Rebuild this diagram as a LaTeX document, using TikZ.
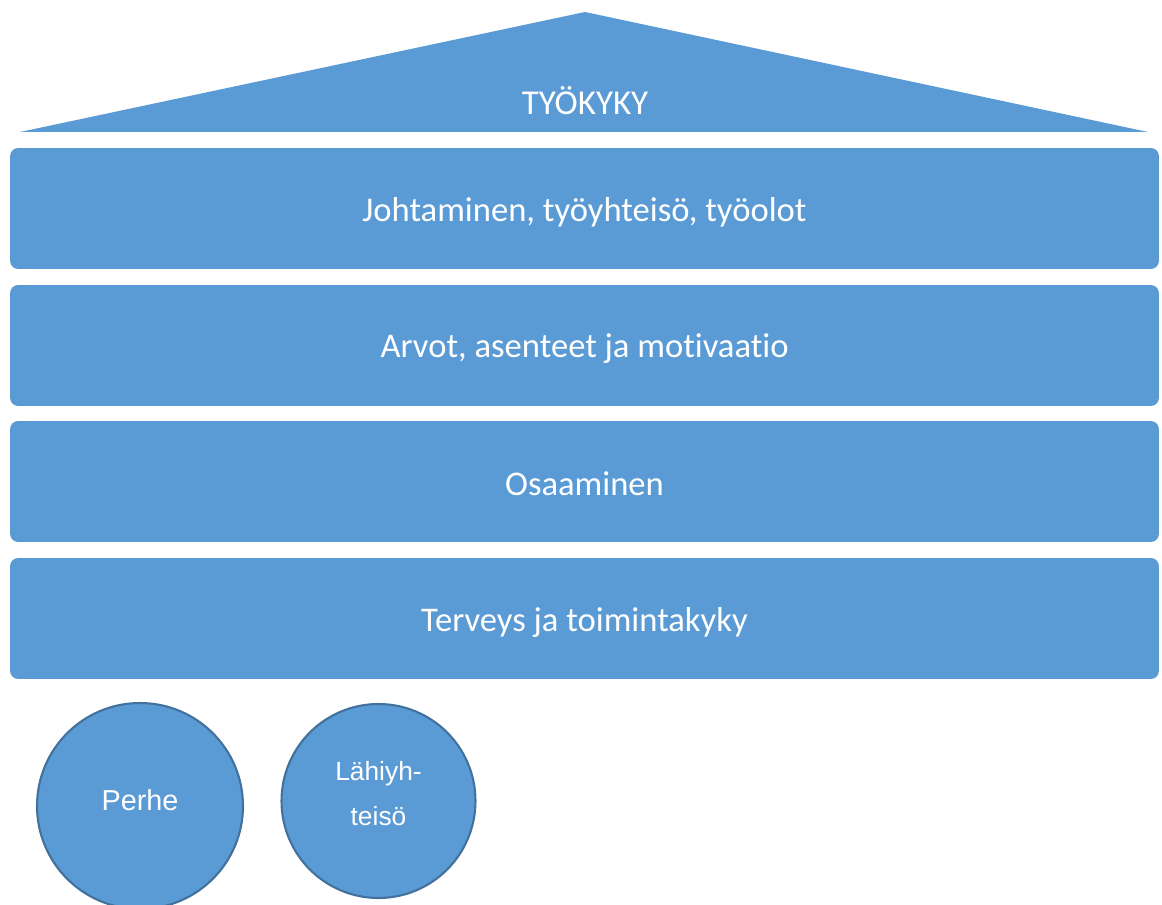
\documentclass[tikz,border=0pt]{standalone}
\usepackage{fontspec}
\setmainfont[Ligatures=NoCommon]{Carlito}
\newfontfamily\arialfont{Liberation Sans}
\definecolor{tileblue}{HTML}{5B9BD5}
\definecolor{rimblue}{HTML}{41719C}
\newcommand{\nudge}[2]{\raisebox{#1}[\height][\depth]{#2}}
\tikzset{
  layer/.style={fill=tileblue, rounded corners=0.16cm, minimum width=22.98cm,
    minimum height=2.42cm, text=white, font=\fontsize{19.7}{23}\selectfont},
  ball/.style={circle, fill=tileblue, draw=rimblue, line width=1.2pt, text=white,
    align=center, font=\arialfont\fontsize{15}{26}\selectfont}
}
\begin{document}
\begin{tikzpicture}[x=0.02cm,y=-0.02cm]
\useasboundingbox (0,0) rectangle (1162,905);
% roof
\coordinate (apex) at (585,12);
\coordinate (eaveL) at (20,132);
\coordinate (eaveR) at (1148,132);
\fill[tileblue] (eaveL) -- (apex) -- (eaveR) -- cycle;
\node[text=white, font=\fontsize{19.9}{23}\selectfont] (roof) at (585,101) {TYÖKYKY};
% floors
\node[layer] (johtaminen) at (584.5,208.5) {\nudge{-2.3pt}{Johtaminen, työyhteisö, työolot}};
\node[layer] (arvot) at (584.5,345.5) {\nudge{-2pt}{Arvot, asenteet ja motivaatio}};
\node[layer] (osaaminen) at (584.5,481.5) {\nudge{-1pt}{Osaaminen}};
\node[layer] (terveys) at (584.5,618.5) {\nudge{-2pt}{Terveys ja toimintakyky}};
% ground
\node[ball, minimum size=4.12cm, font=\arialfont\fontsize{16.4}{20}\selectfont] (perhe) at (140,806) {\nudge{3.4pt}{Perhe}};
\node[ball, minimum size=3.88cm] (lahiyhteiso) at (378.5,801) {\nudge{4pt}{\begin{tabular}{@{}c@{}}Lähiyh-\\teisö\end{tabular}}};
\end{tikzpicture}
\end{document}
